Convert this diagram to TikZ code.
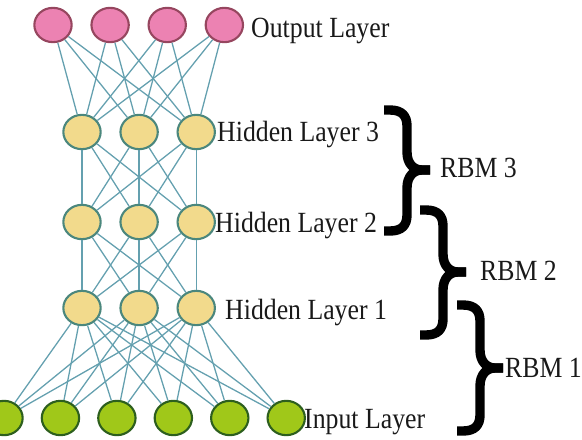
\documentclass[tikz,border=0pt]{standalone}
\usepackage{fontspec}
\setmainfont{Liberation Serif}[FakeStretch=0.88]
\usepackage{tikz}
\usetikzlibrary{positioning,shapes.geometric}

\definecolor{outfill}{RGB}{236,130,178}
\definecolor{outedge}{RGB}{150,70,95}
\definecolor{hidfill}{RGB}{242,218,140}
\definecolor{hidedge}{RGB}{75,135,125}
\definecolor{infill}{RGB}{160,200,25}
\definecolor{inedge}{RGB}{45,95,30}
\definecolor{linkcol}{RGB}{100,160,175}

\begin{document}
\begin{tikzpicture}[
        x=0.03cm, y=-0.03cm,
        unit/.style  = {ellipse, draw, line width=1.8pt, minimum width=1.12cm, minimum height=1.03cm, inner sep=0pt},
        outu/.style  = {unit, fill=outfill, draw=outedge},
        hidu/.style  = {unit, fill=hidfill, draw=hidedge},
        inu/.style   = {unit, fill=infill, draw=inedge},
        link/.style  = {draw=linkcol, line width=1.1pt},
        lbl/.style   = {font=\fontsize{25}{29}\selectfont, inner sep=0pt, anchor=base west, text=black!90},
        brace/.style = {line width=8pt, line cap=butt, line join=round},
        node distance = 0.53cm
    ]
        \useasboundingbox (0,0) rectangle (582,439);
        % output layer
        \node[outu]             (o1) at (53,25) {};
        \node[outu, right=of o1] (o2) {};
        \node[outu, right=of o2] (o3) {};
        \node[outu, right=of o3] (o4) {};
        % hidden layers
        \node[hidu]             (t1) at (82,132) {};
        \node[hidu, right=of t1] (t2) {};
        \node[hidu, right=of t2] (t3) {};
        \node[hidu]             (s1) at (82,222) {};
        \node[hidu, right=of s1] (s2) {};
        \node[hidu, right=of s2] (s3) {};
        \node[hidu]             (f1) at (82,308) {};
        \node[hidu, right=of f1] (f2) {};
        \node[hidu, right=of f2] (f3) {};
        % input layer
        \begin{scope}[node distance=0.51cm]
        \node[inu]              (i1) at (4,418) {};
        \node[inu, right=of i1]  (i2) {};
        \node[inu, right=of i2]  (i3) {};
        \node[inu, right=of i3]  (i4) {};
        \node[inu, right=of i4]  (i5) {};
        \node[inu, right=of i5]  (i6) {};
        \end{scope}
        % layer names
        \node[lbl] (lo) at (251,37)  {Output Layer};
        \node[lbl] (lt) at (217,141) {Hidden Layer 3};
        \node[lbl] (ls) at (215,232) {Hidden Layer 2};
        \node[lbl] (lf) at (225,319) {Hidden Layer 1};
        \node[lbl] (li) at (304,428) {Input Layer};
        % weights
        \foreach \j in {1,...,4} \foreach \k in {1,2,3} \draw[link] (o\j) -- (t\k);
        \foreach \j in {1,2,3}   \foreach \k in {1,2,3} \draw[link] (t\j) -- (s\k);
        \foreach \j in {1,2,3}   \foreach \k in {1,2,3} \draw[link] (s\j) -- (f\k);
        \foreach \j in {1,2,3}   \foreach \k in {1,...,6} \draw[link] (f\j) -- (i\k);
        % braces
        \foreach \bx/\bt/\bm/\bb in {384/110/170/231, 420/210/272/335, 457/305/368/431} {
            \draw[brace] (\bx,\bt) -- ++(6,0) .. controls +(12,0) and +(0,-10) .. (\bx+23,\bt+16)
                -- (\bx+23,\bm-18) .. controls +(0,12) and +(-8,0) .. (\bx+38,\bm) -- (\bx+46,\bm);
            \draw[brace] (\bx,\bb) -- ++(6,0) .. controls +(12,0) and +(0,10) .. (\bx+23,\bb-16)
                -- (\bx+23,\bm+18) .. controls +(0,-12) and +(-8,0) .. (\bx+38,\bm) -- (\bx+46,\bm);
        }
        \node[lbl] (r3) at (440,177) {RBM 3};
        \node[lbl] (r2) at (480,280) {RBM 2};
        \node[lbl] (r1) at (505,377) {RBM 1};
    \end{tikzpicture}
\end{document}
